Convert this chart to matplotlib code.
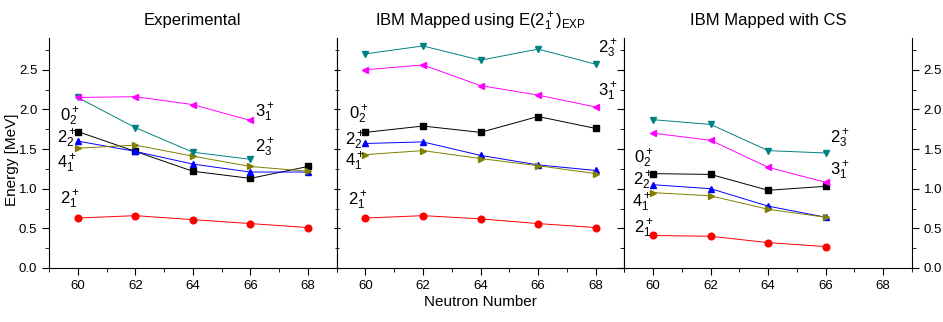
import matplotlib
matplotlib.use("Agg")
import matplotlib.pyplot as plt
from matplotlib.ticker import MultipleLocator

plt.rcParams['font.family'] = ['Liberation Sans', 'DejaVu Sans']
plt.rcParams['mathtext.fontset'] = 'custom'
plt.rcParams['mathtext.rm'] = 'Liberation Sans'
plt.rcParams['mathtext.it'] = 'Liberation Sans'
plt.rcParams['mathtext.bf'] = 'Liberation Sans'

# neutron numbers
n_full = [60, 62, 64, 66, 68]
n_short = [60, 62, 64, 66]

# Experimental
exp_21 = [0.63, 0.66, 0.61, 0.56, 0.51]
exp_02 = [1.72, 1.47, 1.22, 1.13, 1.28]
exp_22 = [1.60, 1.47, 1.31, 1.21, 1.21]
exp_41 = [1.51, 1.55, 1.41, 1.28, 1.22]
exp_23 = [2.15, 1.77, 1.46, 1.37]
exp_31 = [2.15, 2.16, 2.06, 1.86]

# IBM mapped using E(2+1)exp
ibm_21 = [0.63, 0.66, 0.62, 0.56, 0.51]
ibm_02 = [1.71, 1.79, 1.71, 1.91, 1.76]
ibm_22 = [1.57, 1.59, 1.42, 1.30, 1.23]
ibm_41 = [1.43, 1.48, 1.38, 1.29, 1.19]
ibm_23 = [2.70, 2.80, 2.62, 2.76, 2.57]
ibm_31 = [2.50, 2.56, 2.30, 2.18, 2.03]

# IBM mapped with CS
cs_21 = [0.41, 0.40, 0.32, 0.27]
cs_02 = [1.19, 1.18, 0.98, 1.03]
cs_22 = [1.05, 1.00, 0.78, 0.64]
cs_41 = [0.95, 0.91, 0.74, 0.64]
cs_23 = [1.87, 1.81, 1.48, 1.45]
cs_31 = [1.70, 1.61, 1.27, 1.08]

titles = ["Experimental",
          r"IBM Mapped using E(2$^+_1$)$_\mathrm{EXP}$",
          "IBM Mapped with CS"]

# label text, x, y for each panel
labels_exp = [(r"$0^+_2$", 59.38, 1.91), (r"$2^+_2$", 59.28, 1.63), (r"$4^+_1$", 59.28, 1.32),
              (r"$2^+_1$", 59.38, 0.86), (r"$3^+_1$", 66.15, 1.96), (r"$2^+_3$", 66.15, 1.52)]
labels_ibm = [(r"$0^+_2$", 59.42, 1.93), (r"$2^+_2$", 59.30, 1.61), (r"$4^+_1$", 59.30, 1.335),
              (r"$2^+_1$", 59.40, 0.85), (r"$2^+_3$", 68.1, 2.76), (r"$3^+_1$", 68.1, 2.22)]
labels_cs = [(r"$0^+_2$", 59.32, 1.38), (r"$2^+_2$", 59.30, 1.10), (r"$4^+_1$", 59.26, 0.82),
             (r"$2^+_1$", 59.35, 0.50), (r"$2^+_3$", 66.14, 1.63), (r"$3^+_1$", 66.14, 1.23)]

styles = [("red", "o"), ("black", "s"), ("blue", "^"), ("#808000", ">"), ("#008080", "v"), ("magenta", "<")]

panels = [
    ([n_full, n_full, n_full, n_full, n_short, n_short], [exp_21, exp_02, exp_22, exp_41, exp_23, exp_31], labels_exp),
    ([n_full] * 6, [ibm_21, ibm_02, ibm_22, ibm_41, ibm_23, ibm_31], labels_ibm),
    ([n_short] * 6, [cs_21, cs_02, cs_22, cs_41, cs_23, cs_31], labels_cs),
]

fig = plt.figure(figsize=(9.43, 3.22), dpi=100)
left = 49 / 943
w = (912 - 49) / 3 / 943
bottom = (322 - 268) / 322
h = (268 - 38) / 322

for i, (xs, ys, labs) in enumerate(panels):
    ax = fig.add_axes([left + i * w, bottom, w, h])
    for x, y, (c, m) in zip(xs, ys, styles):
        ax.plot(x, y, color=c, marker=m, markersize=4.8, linewidth=0.7)
    for t, lx, ly in labs:
        ax.text(lx, ly, t, fontsize=12, ha="left", va="center")
    ax.set_xlim(59, 69)
    ax.set_ylim(0, 2.9)
    ax.xaxis.set_major_locator(MultipleLocator(2))
    ax.xaxis.set_minor_locator(MultipleLocator(1))
    ax.yaxis.set_major_locator(MultipleLocator(0.5))
    ax.yaxis.set_minor_locator(MultipleLocator(0.25))
    ax.set_title(titles[i], fontsize=12, pad=9)
    ax.tick_params(axis="x", which="both", direction="out", labelsize=9.5)
    ax.tick_params(axis="x", which="major", length=5)
    ax.tick_params(axis="x", which="minor", length=3)
    if i == 0:
        ax.tick_params(axis="y", which="both", direction="out", labelsize=9.5)
        ax.set_ylabel("Energy [MeV]", fontsize=11)
        ax.yaxis.set_label_coords(-0.105, 0.47)
        ax.yaxis.set_major_formatter(plt.FuncFormatter(lambda v, p: f"{v:.1f}"))
    elif i == 1:
        ax.tick_params(axis="y", which="both", direction="inout", left=True, right=True, labelleft=False)
        ax.set_xlabel("Neutron Number", fontsize=11, labelpad=2)
    else:
        ax.tick_params(axis="y", which="both", direction="out", left=True, right=True,
                       labelleft=False, labelright=True, labelsize=9.5)
        ax.yaxis.set_major_formatter(plt.FuncFormatter(lambda v, p: f"{v:.1f}"))
    ax.tick_params(axis="y", which="major", length=5)
    ax.tick_params(axis="y", which="minor", length=3)
    ax.spines["top"].set_visible(False)

fig.savefig("out.png", dpi=100)
